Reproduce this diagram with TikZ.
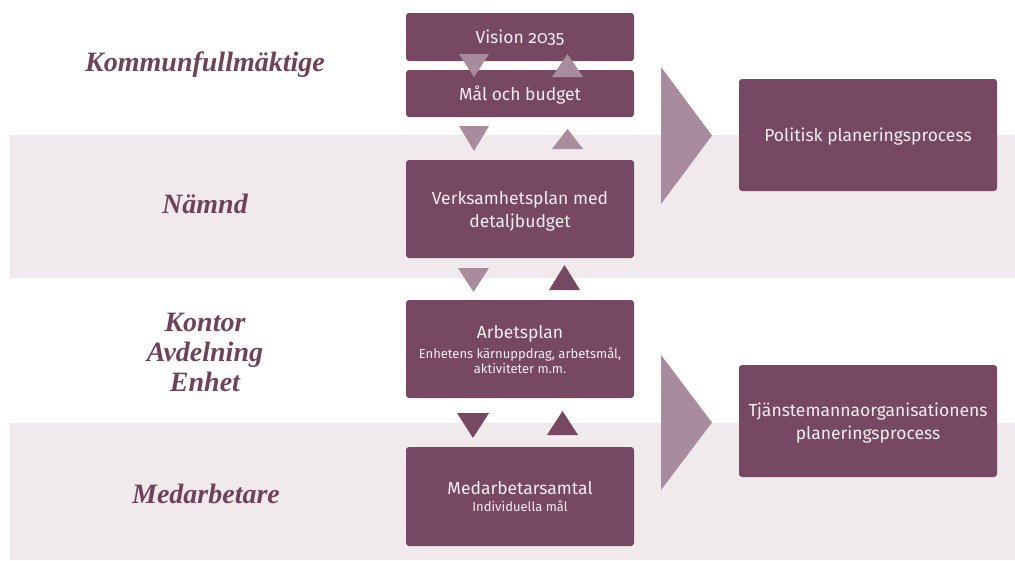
\documentclass[tikz,border=0pt]{standalone}
\usepackage{fontspec}
\setmainfont{Fira Sans}[Numbers=OldStyle]
\newfontfamily\lblfont{Liberation Serif}
\definecolor{dark}{HTML}{774862}
\definecolor{light}{HTML}{A88B9D}
\definecolor{band}{HTML}{F0EAEF}
\definecolor{lbl}{HTML}{6F4259}
\definecolor{boxtext}{HTML}{F4EEF1}
\begin{document}
\begin{tikzpicture}[x=1pt,y=-1pt,
  box/.style={fill=dark, rounded corners=3pt, text=boxtext, align=center,
    font=\fontsize{17.5}{23}\selectfont, inner sep=0pt, minimum width=228pt,
    text depth=0pt},
  sidebox/.style={box, minimum width=258pt, minimum height=112pt},
  lvl/.style={text=lbl, align=center, inner sep=0pt,
    font=\lblfont\bfseries\itshape\fontsize{28}{30}\selectfont}]
\newcommand\smalltext{\fontsize{13}{15}\selectfont}
\useasboundingbox (0,0) rectangle (1015,560);
\fill[white] (0,0) rectangle (1015,560);
% bands
\fill[band] (10,135) rectangle (1015,278);
\fill[band] (10,423) rectangle (1015,560);
% level labels
\node[lvl] (kf) at (205,65) {Kommunfullmäktige};
\node[lvl] (nd) at (205,204) {Nämnd};
\node[lvl] (kae) at (205,352) {Kontor\\Avdelning\\Enhet};
\node[lvl] (md) at (206,494) {Medarbetare};
% boxes
\node[box, minimum height=48pt] (vision) at (520,37) {Vision 2035};
\node[box, minimum height=47pt] (mal) at (520,93.5) {Mål och budget};
\node[box, minimum height=98pt] (vp) at (520,209) {Verksamhetsplan med\\detaljbudget};
\node[box, minimum height=98pt] (ap) at (520,349) {Arbetsplan\\[-3pt]{\smalltext Enhetens kärnuppdrag, arbetsmål,}\\[-8pt]{\smalltext aktiviteter m.m.}};
\node[box, minimum height=99pt] (ms) at (520,496.5) {Medarbetarsamtal\\[-6pt]{\smalltext Individuella mål}};
\node[sidebox] (pol) at (868,135) {Politisk planeringsprocess};
\node[sidebox] (tj) at (868,421) {Tjänstemannaorganisationens\\planeringsprocess};
% big triangles
\fill[light] (661,67) -- (712,135.5) -- (661,204) -- cycle;
\fill[light] (661,355) -- (712,422.5) -- (661,490) -- cycle;
% small triangles
\fill[light] (459,54) -- (489,54) -- (474,77) -- cycle;
\fill[light] (552,77) -- (583,77) -- (567.5,54) -- cycle;
\fill[light] (459,126) -- (489,126) -- (474,151) -- cycle;
\fill[light] (552,149) -- (583,149) -- (567.5,129) -- cycle;
\fill[light] (458,268) -- (489,268) -- (473.5,292) -- cycle;
\fill[dark] (549,290) -- (580,290) -- (564.5,265) -- cycle;
\fill[dark] (457,413) -- (489,413) -- (473,438) -- cycle;
\fill[dark] (547,435) -- (578,435) -- (562.5,411) -- cycle;
\end{tikzpicture}
\end{document}
